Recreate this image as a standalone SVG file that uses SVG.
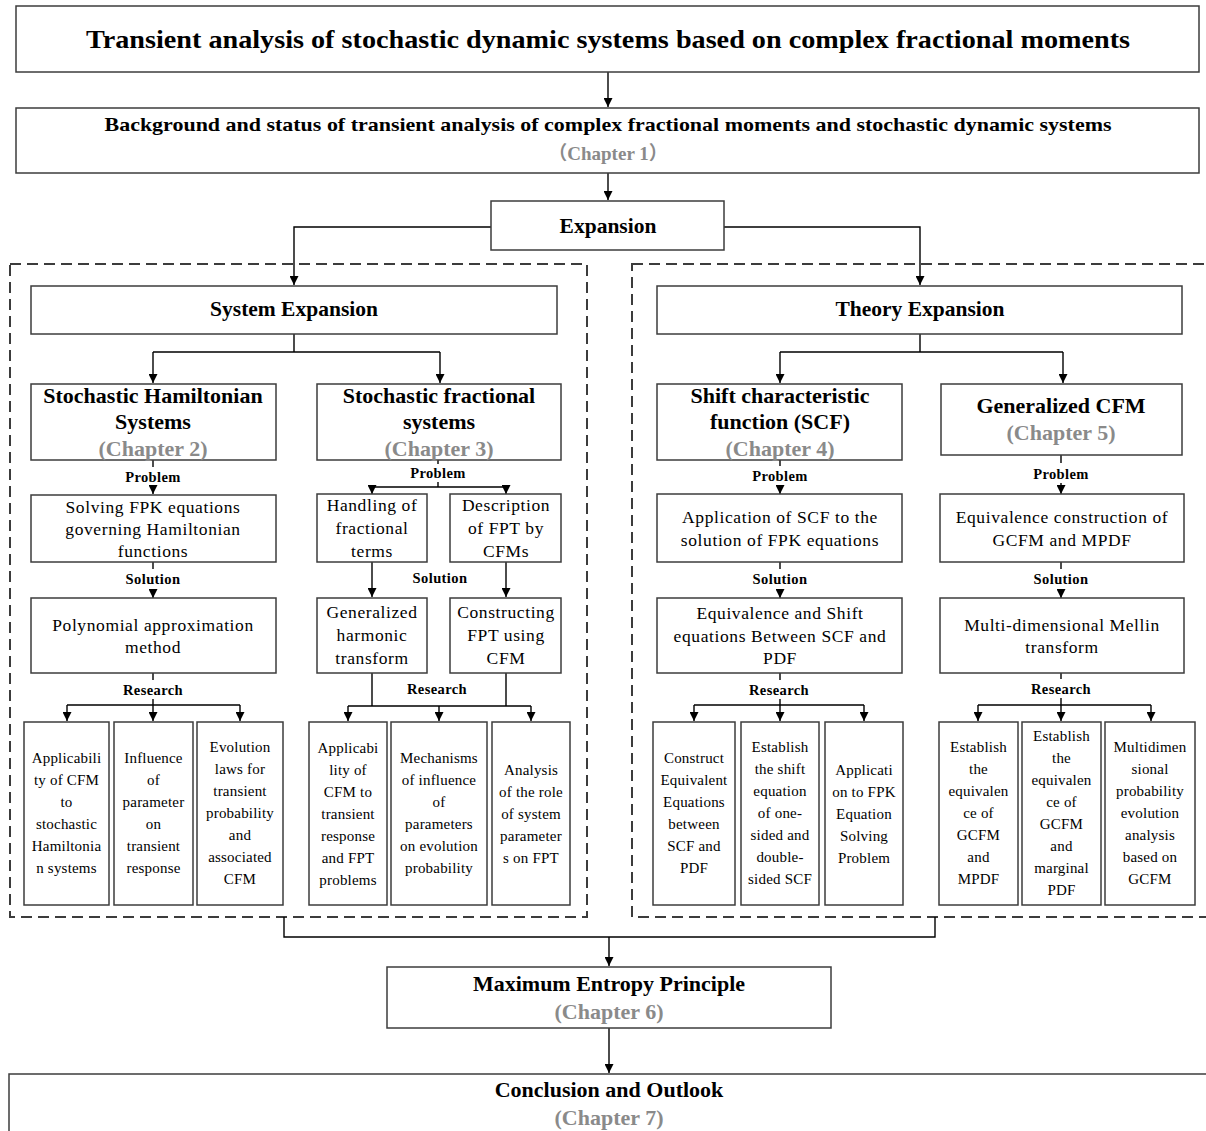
<svg xmlns="http://www.w3.org/2000/svg" width="1206" height="1131" viewBox="0 0 1206 1131">
<defs>
<style>
.box{fill:#fff;stroke:#3c3c3c;stroke-width:1.5}
.dash{fill:none;stroke:#3c3c3c;stroke-width:2;stroke-dasharray:11 6}
.conn{fill:none;stroke:#000;stroke-width:1.4}
text{font-family:"Liberation Serif","Times New Roman","Noto Sans CJK SC",serif;fill:#000;text-anchor:middle}
.b{font-weight:bold}
.h{font-size:22px;font-weight:bold}
.hx{font-size:21.5px;font-weight:bold}
.ch{font-size:22px;font-weight:bold;fill:#8a8a8a}
.lbl{font-size:14.5px;font-weight:bold;letter-spacing:0.4px}
.m{font-size:17.5px;letter-spacing:0.6px}
.s{font-size:15px;letter-spacing:0.2px}
</style>
<marker id="ar" viewBox="0 0 10 10" refX="10" refY="5" markerWidth="9" markerHeight="9" markerUnits="userSpaceOnUse" orient="auto">
<path d="M0,0 L10,5 L0,10 Z" fill="#000"/>
</marker>
</defs>
<rect width="1206" height="1131" fill="#fff"/>

<g id="containers">
<rect class="dash" x="10" y="264" width="577" height="653"/>
<rect class="dash" x="632" y="264" width="600" height="653"/>
</g>

<g id="connectors">
<path class="conn" d="M608,72 V107" marker-end="url(#ar)"/>
<path class="conn" d="M608,173 V200" marker-end="url(#ar)"/>
<path class="conn" d="M491,227 H294 V285" marker-end="url(#ar)"/>
<path class="conn" d="M724,227 H920 V285" marker-end="url(#ar)"/>
<path class="conn" d="M294,334 V352 M153,352 H440"/>
<path class="conn" d="M153,352 V383" marker-end="url(#ar)"/>
<path class="conn" d="M440,352 V383" marker-end="url(#ar)"/>
<path class="conn" d="M920,334 V352 M780,352 H1063"/>
<path class="conn" d="M780,352 V383" marker-end="url(#ar)"/>
<path class="conn" d="M1063,352 V383" marker-end="url(#ar)"/>
<!-- left column -->
<path class="conn" d="M153,460 V467"/>
<path class="conn" d="M153,486 V494" marker-end="url(#ar)"/>
<path class="conn" d="M153,562 V569"/>
<path class="conn" d="M153,589 V598" marker-end="url(#ar)"/>
<path class="conn" d="M153,673 V680 M153,699 V705 M67,705 H240"/>
<path class="conn" d="M67,705 V721" marker-end="url(#ar)"/>
<path class="conn" d="M153,705 V721" marker-end="url(#ar)"/>
<path class="conn" d="M240,705 V721" marker-end="url(#ar)"/>
<!-- fractional column -->
<path class="conn" d="M438,460 V464 M438,482 V487 M372,487 H506"/>
<path class="conn" d="M372,487 V494" marker-end="url(#ar)"/>
<path class="conn" d="M506,487 V494" marker-end="url(#ar)"/>
<path class="conn" d="M372,562 V597" marker-end="url(#ar)"/>
<path class="conn" d="M506,562 V597" marker-end="url(#ar)"/>
<path class="conn" d="M372,673 V706 M506,673 V706 M348,706 H531"/>
<path class="conn" d="M348,706 V721" marker-end="url(#ar)"/>
<path class="conn" d="M439,706 V721" marker-end="url(#ar)"/>
<path class="conn" d="M531,706 V721" marker-end="url(#ar)"/>
<!-- SCF column -->
<path class="conn" d="M780,460 V466"/>
<path class="conn" d="M780,486 V494" marker-end="url(#ar)"/>
<path class="conn" d="M780,562 V569"/>
<path class="conn" d="M780,589 V598" marker-end="url(#ar)"/>
<path class="conn" d="M780,673 V680 M780,699 V705 M694,705 H864"/>
<path class="conn" d="M694,705 V721" marker-end="url(#ar)"/>
<path class="conn" d="M780,705 V721" marker-end="url(#ar)"/>
<path class="conn" d="M864,705 V721" marker-end="url(#ar)"/>
<!-- GCFM column -->
<path class="conn" d="M1061,455 V463"/>
<path class="conn" d="M1061,483 V494" marker-end="url(#ar)"/>
<path class="conn" d="M1061,562 V569"/>
<path class="conn" d="M1061,589 V598" marker-end="url(#ar)"/>
<path class="conn" d="M1061,673 V679 M1061,698 V705 M978,705 H1151"/>
<path class="conn" d="M978,705 V721" marker-end="url(#ar)"/>
<path class="conn" d="M1061,705 V721" marker-end="url(#ar)"/>
<path class="conn" d="M1151,705 V721" marker-end="url(#ar)"/>
<!-- bottom -->
<path class="conn" d="M284,917 V937 H935 V917"/>
<path class="conn" d="M609,937 V966" marker-end="url(#ar)"/>
<path class="conn" d="M609,1028 V1073" marker-end="url(#ar)"/>
</g>

<g id="n-title">
<rect class="box" x="16" y="6" width="1183" height="66"/>
<text class="b" x="608" y="48" font-size="25" textLength="1044" lengthAdjust="spacingAndGlyphs">Transient analysis of stochastic dynamic systems based on complex fractional moments</text>
</g>
<g id="n-background">
<rect class="box" x="16" y="108" width="1183" height="65"/>
<text class="b" x="608" y="131" font-size="19" textLength="1007" lengthAdjust="spacingAndGlyphs">Background and status of transient analysis of complex fractional moments and stochastic dynamic systems</text>
<text class="b" x="608" y="160" font-size="19" style="fill:#8a8a8a">（Chapter 1）</text>
</g>
<g id="n-expansion">
<rect class="box" x="491" y="201" width="233" height="49"/>
<text class="hx" x="608" y="233">Expansion</text>
</g>

<g id="n-system">
<rect class="box" x="31" y="286" width="526" height="48"/>
<text class="hx" x="294" y="316">System Expansion</text>
</g>
<g id="n-theory">
<rect class="box" x="657" y="286" width="525" height="48"/>
<text class="hx" x="920" y="316">Theory Expansion</text>
</g>

<g id="n-hamiltonian">
<rect class="box" x="31" y="384" width="245" height="76"/>
<text class="h" x="153" y="403">Stochastic Hamiltonian</text>
<text class="h" x="153" y="429">Systems</text>
<text class="ch" x="153" y="456">(Chapter 2)</text>
</g>
<g id="n-fractional">
<rect class="box" x="317" y="384" width="244" height="76"/>
<text class="h" x="439" y="403">Stochastic fractional</text>
<text class="h" x="439" y="429">systems</text>
<text class="ch" x="439" y="456">(Chapter 3)</text>
</g>
<g id="n-scf">
<rect class="box" x="657" y="384" width="245" height="76"/>
<text class="h" x="780" y="403">Shift characteristic</text>
<text class="h" x="780" y="429">function (SCF)</text>
<text class="ch" x="780" y="456">(Chapter 4)</text>
</g>
<g id="n-gcfm">
<rect class="box" x="941" y="384" width="241" height="71"/>
<text class="h" x="1061" y="413">Generalized CFM</text>
<text class="ch" x="1061" y="440">(Chapter 5)</text>
</g>

<g id="labels">
<text class="lbl" x="153" y="482">Problem</text>
<text class="lbl" x="438" y="478">Problem</text>
<text class="lbl" x="780" y="481">Problem</text>
<text class="lbl" x="1061" y="479">Problem</text>
<text class="lbl" x="153" y="584">Solution</text>
<text class="lbl" x="440" y="583">Solution</text>
<text class="lbl" x="780" y="584">Solution</text>
<text class="lbl" x="1061" y="584">Solution</text>
<text class="lbl" x="153" y="695">Research</text>
<text class="lbl" x="437" y="694">Research</text>
<text class="lbl" x="779" y="695">Research</text>
<text class="lbl" x="1061" y="694">Research</text>
</g>

<g id="n-solving-fpk">
<rect class="box" x="31" y="495" width="245" height="67"/>
<text class="m" x="153" y="513">Solving FPK equations</text>
<text class="m" x="153" y="535">governing Hamiltonian</text>
<text class="m" x="153" y="557">functions</text>
</g>
<g id="n-polynomial">
<rect class="box" x="31" y="598" width="245" height="75"/>
<text class="m" x="153" y="631">Polynomial approximation</text>
<text class="m" x="153" y="653">method</text>
</g>
<g id="n-handling">
<rect class="box" x="317" y="494" width="110" height="68"/>
<text class="m" x="372" y="511">Handling of</text>
<text class="m" x="372" y="534">fractional</text>
<text class="m" x="372" y="557">terms</text>
</g>
<g id="n-description">
<rect class="box" x="450" y="494" width="111" height="68"/>
<text class="m" x="506" y="511">Description</text>
<text class="m" x="506" y="534">of FPT by</text>
<text class="m" x="506" y="557">CFMs</text>
</g>
<g id="n-harmonic">
<rect class="box" x="317" y="598" width="110" height="75"/>
<text class="m" x="372" y="618">Generalized</text>
<text class="m" x="372" y="641">harmonic</text>
<text class="m" x="372" y="664">transform</text>
</g>
<g id="n-constructing">
<rect class="box" x="450" y="598" width="111" height="75"/>
<text class="m" x="506" y="618">Constructing</text>
<text class="m" x="506" y="641">FPT using</text>
<text class="m" x="506" y="664">CFM</text>
</g>
<g id="n-application">
<rect class="box" x="657" y="494" width="245" height="68"/>
<text class="m" x="780" y="523">Application of SCF to the</text>
<text class="m" x="780" y="546">solution of FPK equations</text>
</g>
<g id="n-equiv-construction">
<rect class="box" x="940" y="494" width="244" height="68"/>
<text class="m" x="1062" y="523">Equivalence construction of</text>
<text class="m" x="1062" y="546">GCFM and MPDF</text>
</g>
<g id="n-equiv-shift">
<rect class="box" x="657" y="598" width="245" height="75"/>
<text class="m" x="780" y="619">Equivalence and Shift</text>
<text class="m" x="780" y="642">equations Between SCF and</text>
<text class="m" x="780" y="664">PDF</text>
</g>
<g id="n-mellin">
<rect class="box" x="940" y="598" width="244" height="75"/>
<text class="m" x="1062" y="631">Multi-dimensional Mellin</text>
<text class="m" x="1062" y="653">transform</text>
</g>

<g id="n-l1">
<rect class="box" x="24" y="722" width="85" height="183"/>
<text class="s" x="66.5"><tspan x="66.5" y="763">Applicabili</tspan><tspan x="66.5" y="785">ty of CFM</tspan><tspan x="66.5" y="807">to</tspan><tspan x="66.5" y="829">stochastic</tspan><tspan x="66.5" y="851">Hamiltonia</tspan><tspan x="66.5" y="873">n systems</tspan></text>
</g>
<g id="n-l2">
<rect class="box" x="114" y="722" width="79" height="183"/>
<text class="s" x="153.5"><tspan x="153.5" y="763">Influence</tspan><tspan x="153.5" y="785">of</tspan><tspan x="153.5" y="807">parameter</tspan><tspan x="153.5" y="829">on</tspan><tspan x="153.5" y="851">transient</tspan><tspan x="153.5" y="873">response</tspan></text>
</g>
<g id="n-l3">
<rect class="box" x="197" y="722" width="86" height="183"/>
<text class="s" x="240"><tspan x="240" y="752">Evolution</tspan><tspan x="240" y="774">laws for</tspan><tspan x="240" y="796">transient</tspan><tspan x="240" y="818">probability</tspan><tspan x="240" y="840">and</tspan><tspan x="240" y="862">associated</tspan><tspan x="240" y="884">CFM</tspan></text>
</g>
<g id="n-f1">
<rect class="box" x="309" y="722" width="78" height="183"/>
<text class="s" x="348"><tspan x="348" y="753">Applicabi</tspan><tspan x="348" y="775">lity of</tspan><tspan x="348" y="797">CFM to</tspan><tspan x="348" y="819">transient</tspan><tspan x="348" y="841">response</tspan><tspan x="348" y="863">and FPT</tspan><tspan x="348" y="885">problems</tspan></text>
</g>
<g id="n-f2">
<rect class="box" x="391" y="722" width="96" height="183"/>
<text class="s" x="439"><tspan x="439" y="763">Mechanisms</tspan><tspan x="439" y="785">of influence</tspan><tspan x="439" y="807">of</tspan><tspan x="439" y="829">parameters</tspan><tspan x="439" y="851">on evolution</tspan><tspan x="439" y="873">probability</tspan></text>
</g>
<g id="n-f3">
<rect class="box" x="492" y="722" width="78" height="183"/>
<text class="s" x="531"><tspan x="531" y="775">Analysis</tspan><tspan x="531" y="797">of the role</tspan><tspan x="531" y="819">of system</tspan><tspan x="531" y="841">parameter</tspan><tspan x="531" y="863">s on FPT</tspan></text>
</g>
<g id="n-s1">
<rect class="box" x="653" y="722" width="82" height="183"/>
<text class="s" x="694"><tspan x="694" y="763">Construct</tspan><tspan x="694" y="785">Equivalent</tspan><tspan x="694" y="807">Equations</tspan><tspan x="694" y="829">between</tspan><tspan x="694" y="851">SCF and</tspan><tspan x="694" y="873">PDF</tspan></text>
</g>
<g id="n-s2">
<rect class="box" x="741" y="722" width="78" height="183"/>
<text class="s" x="780"><tspan x="780" y="752">Establish</tspan><tspan x="780" y="774">the shift</tspan><tspan x="780" y="796">equation</tspan><tspan x="780" y="818">of one-</tspan><tspan x="780" y="840">sided and</tspan><tspan x="780" y="862">double-</tspan><tspan x="780" y="884">sided SCF</tspan></text>
</g>
<g id="n-s3">
<rect class="box" x="825" y="722" width="78" height="183"/>
<text class="s" x="864"><tspan x="864" y="775">Applicati</tspan><tspan x="864" y="797">on to FPK</tspan><tspan x="864" y="819">Equation</tspan><tspan x="864" y="841">Solving</tspan><tspan x="864" y="863">Problem</tspan></text>
</g>
<g id="n-g1">
<rect class="box" x="939" y="722" width="79" height="183"/>
<text class="s" x="978.5"><tspan x="978.5" y="752">Establish</tspan><tspan x="978.5" y="774">the</tspan><tspan x="978.5" y="796">equivalen</tspan><tspan x="978.5" y="818">ce of</tspan><tspan x="978.5" y="840">GCFM</tspan><tspan x="978.5" y="862">and</tspan><tspan x="978.5" y="884">MPDF</tspan></text>
</g>
<g id="n-g2">
<rect class="box" x="1022" y="722" width="79" height="183"/>
<text class="s" x="1061.5"><tspan x="1061.5" y="741">Establish</tspan><tspan x="1061.5" y="763">the</tspan><tspan x="1061.5" y="785">equivalen</tspan><tspan x="1061.5" y="807">ce of</tspan><tspan x="1061.5" y="829">GCFM</tspan><tspan x="1061.5" y="851">and</tspan><tspan x="1061.5" y="873">marginal</tspan><tspan x="1061.5" y="895">PDF</tspan></text>
</g>
<g id="n-g3">
<rect class="box" x="1105" y="722" width="90" height="183"/>
<text class="s" x="1150"><tspan x="1150" y="752">Multidimen</tspan><tspan x="1150" y="774">sional</tspan><tspan x="1150" y="796">probability</tspan><tspan x="1150" y="818">evolution</tspan><tspan x="1150" y="840">analysis</tspan><tspan x="1150" y="862">based on</tspan><tspan x="1150" y="884">GCFM</tspan></text>
</g>

<g id="n-maxent">
<rect class="box" x="387" y="967" width="444" height="61"/>
<text class="h" x="609" y="991">Maximum Entropy Principle</text>
<text class="ch" x="609" y="1019">(Chapter 6)</text>
</g>
<g id="n-conclusion">
<rect class="box" x="9" y="1074" width="1220" height="80"/>
<text class="h" x="609" y="1097">Conclusion and Outlook</text>
<text class="ch" x="609" y="1125">(Chapter 7)</text>
</g>
</svg>
